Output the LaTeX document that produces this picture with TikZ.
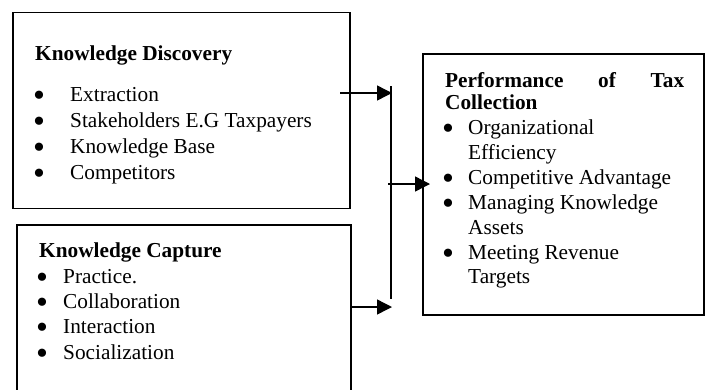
\documentclass[tikz,border=0pt]{standalone}
\usepackage{fontspec}
\setmainfont{Liberation Serif}
\usetikzlibrary{arrows.meta}
\newcommand{\bigbul}{\raisebox{-5pt}[4pt][0pt]{\scalebox{1.6}{•}}}
\begin{document}
\begin{tikzpicture}[x=1pt,y=-1pt,
  box/.style={draw,line width=1.8pt,inner sep=0pt,outer sep=0pt},
  txt/.style={anchor=base west,inner sep=0pt,font=\fontsize{21.3}{25}\selectfont},
  bul/.style={anchor=base,inner sep=0pt,font=\fontsize{21.3}{25}\selectfont},
  hd/.style={txt,font=\fontsize{21.3}{25}\selectfont\bfseries},
  arr/.style={line width=1.4pt,-{Triangle[length=15pt,width=15pt]}},
  bar/.style={line width=1.4pt}]
\useasboundingbox (0,0) rectangle (708,389);
\clip (0,0) rectangle (708,389);
% boxes
\node[box,minimum width=337pt,minimum height=196pt] (kd) at (181.5,110.5) {};
\node[box,minimum width=334pt,minimum height=180pt] (kc) at (184,315) {};
\node[box,minimum width=281pt,minimum height=261pt] (pt) at (563.5,184.5) {};
% Knowledge Discovery text
\node[hd] (kdh) at (35,60) {Knowledge Discovery};
\node[bul] (b11) at (39,101) {\bigbul};
\node[txt] (t11) at (70,101) {Extraction};
\node[bul] (b12) at (39,127) {\bigbul};
\node[txt] (t12) at (70,127) {Stakeholders E.G Taxpayers};
\node[bul] (b13) at (39,153) {\bigbul};
\node[txt] (t13) at (70,153) {Knowledge Base};
\node[bul] (b14) at (39,179) {\bigbul};
\node[txt] (t14) at (70,179) {Competitors};
% Knowledge Capture text
\node[hd] (kch) at (39,257) {Knowledge Capture};
\node[bul] (b21) at (42,283) {\bigbul};
\node[txt] (t21) at (63,283) {Practice.};
\node[bul] (b22) at (42,308) {\bigbul};
\node[txt] (t22) at (63,308) {Collaboration};
\node[bul] (b23) at (42,333) {\bigbul};
\node[txt] (t23) at (63,333) {Interaction};
\node[bul] (b24) at (42,359) {\bigbul};
\node[txt] (t24) at (63,359) {Socialization};
% Performance text
\node[hd] (pth1) at (445,87) {\hbox to 239pt{Performance\hfill of\hfill Tax}};
\node[hd] (pth2) at (445,109) {Collection};
\node[bul] (b31) at (448,134) {\bigbul};
\node[txt] (t31) at (468,134) {Organizational};
\node[txt] (t31b) at (468,159) {Efficiency};
\node[bul] (b32) at (448,184) {\bigbul};
\node[txt] (t32) at (468,184) {Competitive Advantage};
\node[bul] (b33) at (448,209) {\bigbul};
\node[txt] (t33) at (468,209) {Managing Knowledge};
\node[txt] (t33b) at (468,234) {Assets};
\node[bul] (b34) at (448,259) {\bigbul};
\node[txt] (t34) at (468,259) {Meeting Revenue};
\node[txt] (t34b) at (468,283) {Targets};
% connectors
\coordinate (bartop) at (391,86);
\coordinate (barbot) at (391,299);
\coordinate (j1) at (392,93);
\coordinate (j2) at (392,307);
\coordinate (s1) at (340,93);
\coordinate (s3) at (388,184);
\draw[bar] (bartop) -- (barbot);
\draw[arr] (s1) -- (j1);
\draw[arr] (kc.east |- j2) -- (j2);
\draw[arr] (s3) -- ([xshift=7pt]pt.west |- s3);
\end{tikzpicture}
\end{document}
